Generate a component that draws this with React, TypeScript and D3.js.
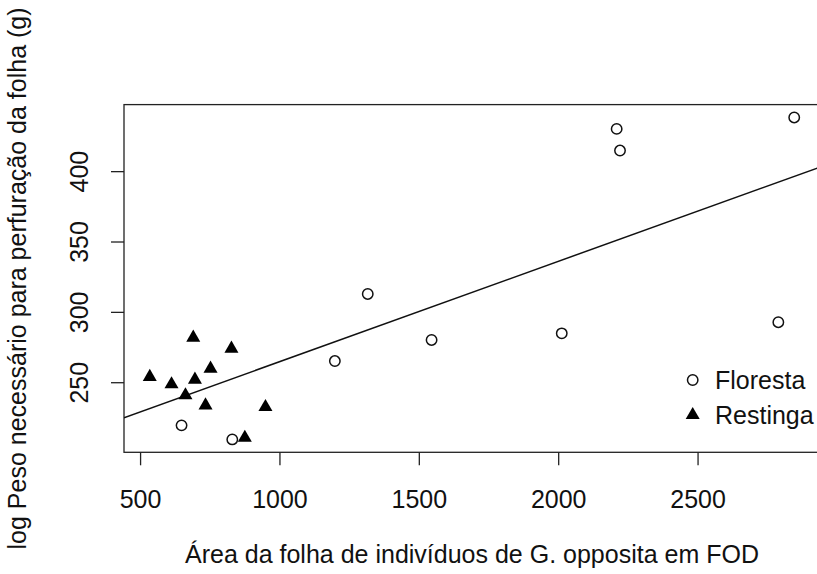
import React from "react";
import * as d3 from "d3";

const florestaX = [647, 829, 1197, 1315, 1544, 2011, 2208, 2220, 2788, 2845];
const florestaY = [219.7, 209.7, 265.4, 313.1, 280.4, 285.1, 430.4, 415.0, 293.0, 438.5];
const restingaX = [689, 826, 533, 611, 695, 751, 661, 733, 948, 874];
const restingaY = [282.0, 274.2, 254.1, 248.9, 252.2, 260.0, 241.1, 233.9, 232.7, 210.9];
const xTicks = [500, 1000, 1500, 2000, 2500];
const yTicks = [250, 300, 350, 400];
const fitIntercept = 193.7;
const fitSlope = 0.07133;
const legendLabels = ["Floresta", "Restinga"];
const xTitle = "Área da folha de indivíduos de G. opposita em FOD";
const yTitle = "log Peso necessário para perfuração da folha (g)";

const W = 817;
const H = 574;
const L = 124, R = 820, T = 104.6, B = 452.3;
const FONT = "'Liberation Sans', Arial, Helvetica, sans-serif";
const FS = 25;
const MR = 5.2;

function ext(vals: number[]): [number, number] {
  const mn = d3.min(vals)!;
  const mx = d3.max(vals)!;
  const d = (mx - mn) * 0.04;
  return [mn - d, mx + d];
}

export default function App() {
  const x = d3.scaleLinear().domain(ext([...florestaX, ...restingaX])).range([L, R]);
  const y = d3.scaleLinear().domain(ext([...florestaY, ...restingaY])).range([B, T]);
  const tri = (cx: number, cy: number) =>
    `M${cx},${cy - 1.555 * MR}L${cx + 1.347 * MR},${cy + 0.777 * MR}L${cx - 1.347 * MR},${cy + 0.777 * MR}Z`;
  const [x0, x1] = x.domain();
  const line = d3.line<number>().x((v) => x(v)).y((v) => y(fitIntercept + fitSlope * v));
  const legX = 692.7;
  const legY = [380, 415];
  return (
    <svg width={W} height={H} style={{ position: "absolute", left: 0, top: 0, background: "#fff" }} fontFamily={FONT}>
      <defs>
        <clipPath id="plotclip">
          <rect x={L} y={T} width={R - L} height={B - T} />
        </clipPath>
      </defs>
      <rect x={L} y={T} width={R - L} height={B - T} fill="none" stroke="#222" strokeWidth={1.3} />
      {xTicks.map((t) => (
        <g key={"xt" + t}>
          <line x1={x(t)} x2={x(t)} y1={B} y2={B + 13} stroke="#222" strokeWidth={1.3} />
          <text x={x(t)} y={508} textAnchor="middle" fontSize={FS} fill="#111">{t}</text>
        </g>
      ))}
      {yTicks.map((t) => (
        <g key={"yt" + t}>
          <line x1={L - 13} x2={L} y1={y(t)} y2={y(t)} stroke="#222" strokeWidth={1.3} />
          <text transform={`translate(88,${y(t)}) rotate(-90)`} textAnchor="middle" fontSize={FS} fill="#111">{t}</text>
        </g>
      ))}
      <path d={line([x0, x1]) || ""} fill="none" stroke="#111" strokeWidth={1.5} clipPath="url(#plotclip)" />
      {florestaX.map((v, i) => (
        <circle key={"f" + i} cx={x(v)} cy={y(florestaY[i])} r={MR} fill="none" stroke="#111" strokeWidth={1.5} />
      ))}
      {restingaX.map((v, i) => (
        <path key={"r" + i} d={tri(x(v), y(restingaY[i]))} fill="#000" />
      ))}
      <circle cx={legX} cy={legY[0]} r={MR} fill="none" stroke="#111" strokeWidth={1.5} />
      <path d={tri(legX, legY[1])} fill="#000" />
      {legendLabels.map((s, i) => (
        <text key={s} x={715} y={legY[i] + 9} fontSize={FS} fill="#111">{s}</text>
      ))}
      <text x={(L + R) / 2} y={563} textAnchor="middle" fontSize={FS} fill="#111">{xTitle}</text>
      <text transform={`translate(26,${(T + B) / 2}) rotate(-90)`} textAnchor="middle" fontSize={FS} fill="#111">{yTitle}</text>
    </svg>
  );
}
